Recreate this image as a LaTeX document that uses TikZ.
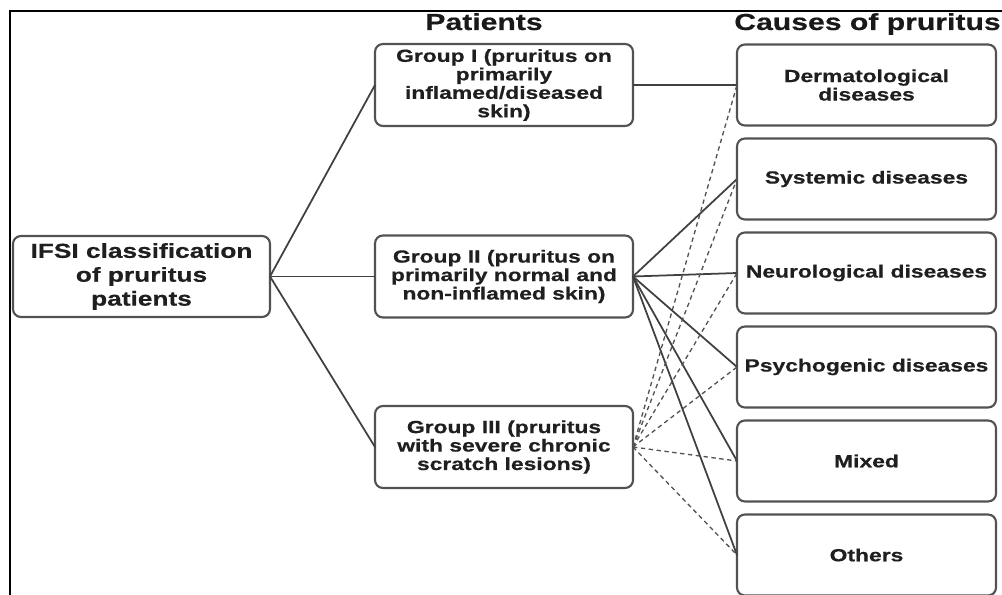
\documentclass[tikz,border=0pt]{standalone}
\usepackage{fontspec}
\setmainfont[FakeStretch=1.3, BoldFeatures={FakeBold=0.5}]{Liberation Sans}
\usetikzlibrary{positioning}

\begin{document}
\begin{tikzpicture}[
    box/.style={draw=black!68, line width=1.2pt, rounded corners=4.5pt, align=center,
      inner sep=0pt, outer sep=0pt, text=black!88, font=\bfseries\fontsize{10}{10.5}\selectfont},
    grp/.style={box, minimum width=5.16cm, minimum height=1.64cm},
    cause/.style={box, minimum width=5.18cm, minimum height=1.62cm},
    heading/.style={anchor=base, text=black!90, font=\bfseries\fontsize{13.2}{15}\selectfont},
    link/.style={draw=black!75, line width=1pt},
    maybe/.style={draw=black!68, line width=0.75pt, dash pattern=on 2.5pt off 2pt}
  ]
  \useasboundingbox (0,0) rectangle (20.04,-11.9);

  % frame
  \draw[line width=1.7pt] (0.2,-11.95) -- (0.2,-0.22) -- (20.1,-0.22);

  % headings
  \node[heading] (hpat) at (9.68,-0.6) {Patients};
  \node[heading] (hcause) at (17.35,-0.6) {Causes of pruritus};

  % classification
  \node[box, minimum width=5.14cm, minimum height=1.62cm,
    font=\bfseries\fontsize{11.5}{13.6}\selectfont] (ifsi) at (2.83,-5.53)
    {IFSI classification\\of pruritus\\patients};

  % patients
  \node[grp] (g1) at (10.08,-1.7) {Group I (pruritus on\\primarily\\inflamed/diseased\\skin)};
  \node[grp] (g2) at (10.08,-5.53) {Group II (pruritus on\\primarily normal and\\non-inflamed skin)};
  \node[grp] (g3) at (10.08,-8.94) {Group III (pruritus\\with severe chronic\\scratch lesions)};

  % causes
  \node[cause] (derm) at (17.33,-1.7) {Dermatological\\diseases};
  \node[cause, below=0.26cm of derm] (sys) {Systemic diseases};
  \node[cause, below=0.26cm of sys] (neuro) {Neurological diseases};
  \node[cause, below=0.26cm of neuro] (psych) {Psychogenic diseases};
  \node[cause, below=0.26cm of psych] (mixed) {Mixed};
  \node[cause, below=0.26cm of mixed] (others) {Others};

  % links
  \foreach \g in {g1,g2,g3}
    \draw[link] (ifsi.east) -- (\g.west);
  \draw[link] (g1.east) -- (derm.west);
  \foreach \c in {sys,neuro,psych,mixed,others}
    \draw[link] (g2.east) -- (\c.west);
  \foreach \c in {derm,sys,neuro,psych,mixed,others}
    \draw[maybe] (g3.east) -- (\c.west);
\end{tikzpicture}
\end{document}
